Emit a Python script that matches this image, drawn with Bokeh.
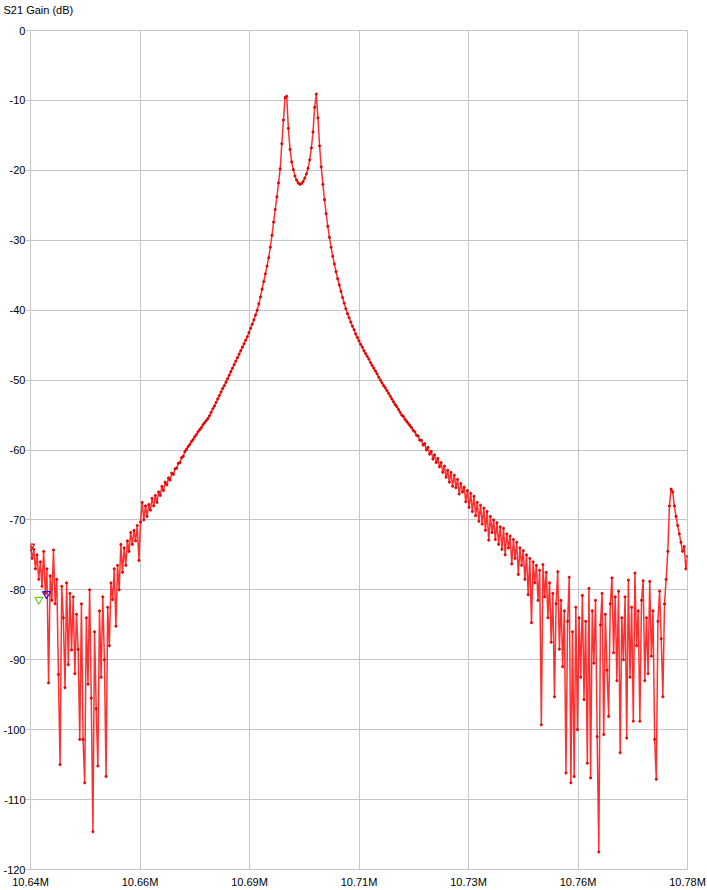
import numpy as np
from bokeh.plotting import figure
from bokeh.models import Range1d, FixedTicker, CustomJSTickFormatter
from bokeh.embed import file_html
from bokeh.resources import INLINE

# ---- data ----
f_start_mhz = 10.64
f_stop_mhz = 10.78

gain_db = [
    -73.8, -75.5, -74.2, -77.0, -75.0, -78.5, -76.0, -79.5, -74.5, -80.5,
    -77.0, -93.3, -78.0, -81.5, -74.3, -82.0, -78.5, -92.1, -105.0, -79.5,
    -84.0, -94.0, -79.0, -90.7, -80.5, -88.6, -81.0, -92.0, -83.5, -88.5,
    -101.4, -82.0, -101.4, -107.6, -84.0, -93.5, -80.0, -95.5, -114.6, -86.0,
    -97.0, -105.2, -83.0, -92.5, -81.0, -90.0, -106.7, -82.5, -88.0, -79.0,
    -81.4, -77.0, -85.2, -76.5, -80.0, -73.5, -77.5, -74.0, -76.5, -73.0,
    -74.5, -71.8, -73.5, -71.5, -73.0, -70.8, -75.8, -70.3, -67.5, -70.0,
    -68.0, -69.5, -67.8, -68.6, -66.9, -68.0, -66.5, -67.5, -66.0, -66.5,
    -65.2, -65.8, -64.6, -65.0, -64.0, -64.3, -63.3, -63.5, -62.7, -62.6,
    -61.9, -61.8, -61.1, -60.9, -60.2, -59.9, -59.5, -59.2, -58.8, -58.5,
    -58.1, -57.8, -57.4, -57.1, -56.8, -56.4, -56.1, -55.8, -55.5, -55.1,
    -54.6, -54.1, -53.7, -53.2, -52.7, -52.2, -51.7, -51.2, -50.8, -50.3,
    -49.8, -49.3, -48.8, -48.3, -47.8, -47.3, -46.8, -46.3, -45.8, -45.3,
    -44.8, -44.3, -43.8, -43.2, -42.6, -42.0, -41.4, -40.7, -40.0, -39.1,
    -38.1, -37.0, -35.9, -34.8, -33.7, -32.5, -31.0, -29.3, -27.4, -25.6,
    -23.8, -21.8, -19.8, -16.2, -12.8, -9.6, -9.4, -14.0, -17.0, -18.8,
    -19.9, -20.8, -21.4, -21.8, -22.0, -21.9, -21.6, -21.1, -20.5, -19.7,
    -18.5, -16.8, -14.5, -11.0, -9.1, -12.5, -16.5, -19.5, -22.0, -24.2,
    -26.2, -28.0, -29.6, -31.0, -32.3, -33.4, -34.5, -35.5, -36.4, -37.3,
    -38.2, -39.0, -39.8, -40.5, -41.1, -41.7, -42.3, -42.8, -43.4, -43.9,
    -44.4, -44.9, -45.3, -45.8, -46.2, -46.6, -47.0, -47.5, -47.9, -48.3,
    -48.7, -49.1, -49.6, -50.0, -50.4, -50.8, -51.1, -51.5, -51.9, -52.3,
    -52.7, -53.1, -53.5, -53.8, -54.2, -54.6, -55.0, -55.2, -55.6, -55.9,
    -56.2, -56.5, -56.8, -57.2, -57.4, -57.9, -58.0, -58.6, -58.6, -59.3,
    -59.1, -60.0, -59.6, -60.6, -60.2, -61.3, -60.7, -61.8, -61.2, -62.4,
    -61.8, -63.2, -62.3, -63.9, -62.9, -64.6, -63.2, -65.2, -63.6, -65.4,
    -64.2, -66.3, -64.8, -66.0, -65.3, -67.4, -65.8, -68.2, -66.2, -68.8,
    -66.6, -69.4, -67.5, -70.2, -67.9, -70.6, -68.3, -71.5, -68.8, -72.9,
    -69.5, -71.8, -70.0, -72.8, -70.4, -73.5, -71.0, -74.2, -71.2, -75.0,
    -72.0, -74.0, -72.3, -76.3, -72.8, -75.5, -73.2, -77.8, -74.0, -76.5,
    -74.4, -78.5, -75.0, -80.7, -75.5, -84.7, -76.0, -79.0, -76.5, -81.5,
    -77.2, -99.3, -76.4, -81.0, -77.5, -84.0, -79.0, -87.5, -80.5, -95.3,
    -82.0, -77.4, -88.5, -81.5, -91.0, -83.0, -106.2, -84.5, -78.2, -107.6,
    -86.0, -106.7, -82.5, -100.0, -84.0, -92.5, -80.8, -95.7, -84.5, -104.8,
    -79.8, -106.9, -83.0, -90.5, -81.5, -101.0, -117.5, -85.0, -80.5, -100.7,
    -83.5, -91.5, -98.1, -82.0, -78.3, -89.0, -81.0, -93.0, -80.2, -103.3,
    -84.0, -90.0, -81.0, -101.2, -78.6, -92.5, -82.5, -98.8, -77.6, -88.0,
    -83.0, -98.8, -81.5, -78.7, -93.0, -84.0, -92.0, -78.8, -89.5, -83.0,
    -101.4, -107.1, -84.5, -80.2, -87.0, -95.3, -82.0, -78.5, -74.5, -68.0,
    -65.6, -66.0, -68.0, -69.5, -70.8, -72.0, -73.2, -74.5, -73.8, -77.0,
    -75.2,
]

# uniform sweep points of the analyser
freq_mhz = np.linspace(f_start_mhz, f_stop_mhz, len(gain_db))

marker_freq_mhz = [10.6400, 10.64177, 10.64341]
marker_gain_db = [-73.8, -81.4, -80.6]
marker_colors = ["#e00000", "#66cc22", "#3311cc"]

x_tick_labels = ["10.64M", "10.66M", "10.69M", "10.71M", "10.73M", "10.76M", "10.78M"]
y_tick_values = [0, -10, -20, -30, -40, -50, -60, -70, -80, -90, -100, -110, -120]
y_tick_labels = ["0", "-10", "-20", "-30", "-40", "-50", "-60", "-70", "-80", "-90", "-100", "-110", "-120"]
y_title = "S21 Gain (dB)"

# ---- figure ----
FONT = "Liberation Sans"
GRID = "#c6c6c6"
W, H = 707, 890
ML, MR, MT, MB = 30, 20, 30, 20

n_x = len(x_tick_labels)
x_ticks = [f_start_mhz + k * (f_stop_mhz - f_start_mhz) / (n_x - 1) for k in range(n_x)]

# pad labels so that right-aligned labels start at the same left edge
FIG_SP = "\u2007"
PUNC_SP = "\u2008"
def pad(lbl):
    body = lbl.lstrip("-")
    neg = lbl.startswith("-")
    return FIG_SP * (3 - len(body)) + ("" if neg else PUNC_SP) + lbl
y_disp = [pad(s) for s in y_tick_labels]

p = figure(width=W, height=H,
           x_range=Range1d(f_start_mhz, f_stop_mhz), y_range=Range1d(-120, 0),
           output_backend="svg", toolbar_location=None,
           min_border_left=ML, min_border_right=MR, min_border_top=MT, min_border_bottom=MB,
           title=y_title + "\n ")

p.background_fill_color = "white"
p.border_fill_color = "white"
p.outline_line_color = GRID
p.outline_line_width = 1

p.title.text_font = FONT
p.title.text_font_size = "11px"
p.title.text_font_style = "normal"
p.title.text_color = "#000000"
p.title.align = "left"
p.title.offset = -27
p.title.vertical_align = "top"
p.title.standoff = 2

p.xaxis.ticker = FixedTicker(ticks=x_ticks)
p.xaxis.formatter = CustomJSTickFormatter(args=dict(labels=x_tick_labels),
                                          code="return labels[index];")
p.yaxis.ticker = FixedTicker(ticks=y_tick_values)
p.yaxis.formatter = CustomJSTickFormatter(args=dict(labels=y_disp, vals=y_tick_values),
                                          code="const i = vals.indexOf(tick); return i >= 0 ? labels[i] : '';")

for ax in (p.xaxis[0], p.yaxis[0]):
    ax.axis_line_color = None
    ax.minor_tick_line_color = None
    ax.major_tick_in = 0
    ax.major_label_text_font = FONT
    ax.major_label_text_font_size = "11px"
    ax.major_label_text_color = "#000000"

p.xaxis.major_tick_out = 0
p.xaxis.major_tick_line_color = None
p.xaxis.major_label_standoff = 6
p.yaxis.major_tick_out = 5
p.yaxis.major_tick_line_color = GRID
p.yaxis.major_label_standoff = 0

p.xgrid.ticker = FixedTicker(ticks=x_ticks)
p.ygrid.ticker = FixedTicker(ticks=y_tick_values)
p.grid.grid_line_color = GRID
p.grid.grid_line_width = 1

p.line(freq_mhz, gain_db, line_color="#ff1a1a", line_width=1.5, line_alpha=0.9)
p.scatter(freq_mhz, gain_db, size=2.2, color="#e00000", alpha=0.9)

for fx, gy, c in zip(marker_freq_mhz, marker_gain_db, marker_colors):
    p.scatter([fx], [gy], marker="inverted_triangle", size=8, line_color=c,
              fill_alpha=0, line_width=1.2)

open("out.html", "w").write(file_html(p, INLINE))
